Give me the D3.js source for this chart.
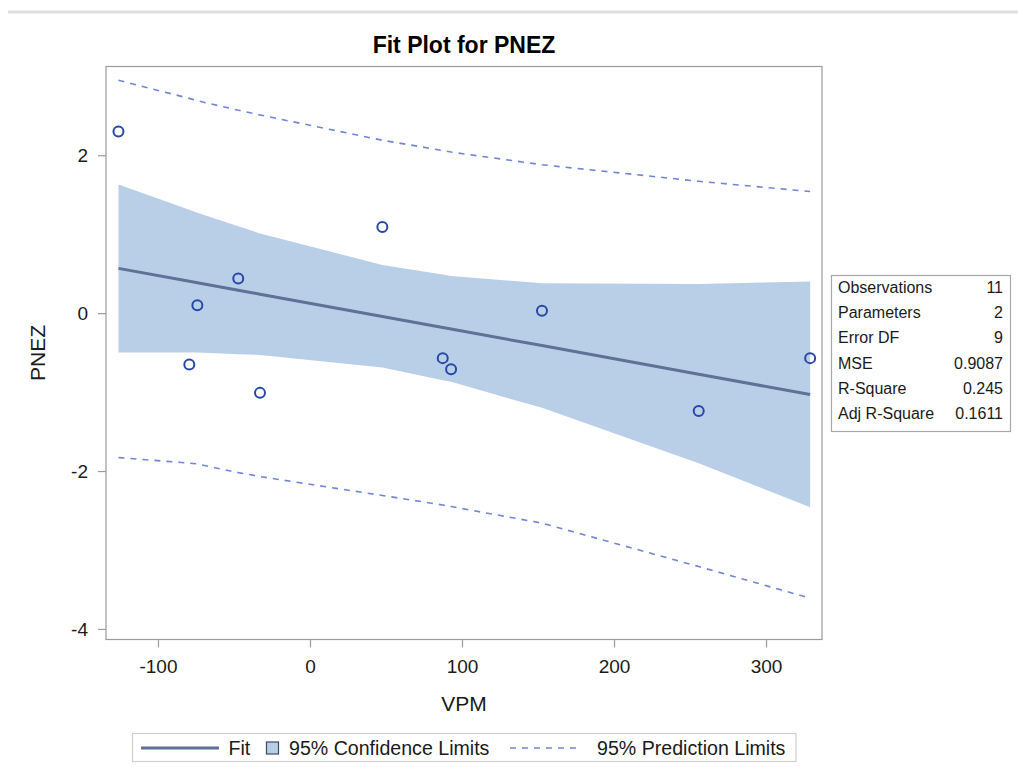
<!DOCTYPE html>
<html>
<head>
<meta charset="utf-8">
<script src="https://cdn.jsdelivr.net/npm/d3@7"></script>
<style>
  body { margin: 0; background: #fff; }
  svg { display: block; font-family: "Liberation Sans", Arial, sans-serif; }
</style>
</head>
<body>
<div id="chart"></div>
<script>
// Data (sorted by VPM)
const vpm = [-126, -79.4, -74.1, -47.2, -32.9, 47.6, 87.3, 92.8, 152.6, 255.7, 329];
const pnez = [2.3, -0.65, 0.1, 0.44, -1.01, 1.09, -0.57, -0.71, 0.03, -1.24, -0.57];
const fitValues = [0.567, 0.403, 0.385, 0.29, 0.24, -0.043, -0.182, -0.202, -0.411, -0.774, -1.031];
const clUpper = [1.63, 1.31, 1.27, 1.1, 1.01, 0.61, 0.49, 0.47, 0.38, 0.37, 0.4];
const clLower = [-0.5, -0.5, -0.5, -0.52, -0.53, -0.69, -0.85, -0.87, -1.2, -1.9, -2.46];
const plUpper = [2.95, 2.72, 2.69, 2.57, 2.51, 2.19, 2.06, 2.04, 1.88, 1.67, 1.54];
const plLower = [-1.83, -1.9, -1.91, -2.02, -2.07, -2.31, -2.43, -2.45, -2.66, -3.21, -3.61];

const xTicks = [-100, 0, 100, 200, 300];
const yTicks = [-4, -2, 0, 2];

const statLabels = ["Observations", "Parameters", "Error DF", "MSE", "R-Square", "Adj R-Square"];
const statValues = ["11", "2", "9", "0.9087", "0.245", "0.1611"];

const legendLabels = ["Fit", "95% Confidence Limits", "95% Prediction Limits"];

const WIDTH = 1018;
const HEIGHT = 767;
const plot = { left: 106, right: 822, top: 66.5, bottom: 639.5 };

const colors = {
  band: "#b9cfe7",
  fit: "#5f7196",
  marker: "#2547a8",
  pred: "#7186d4",
  frame: "#9c9c9c",
  text: "#1a1a1a",
};

const xScale = d3.scaleLinear([-134.2, 336.8], [plot.left, plot.right]);
const yScale = d3.scaleLinear([-4.134, 3.124], [plot.bottom, plot.top]);

const rows = vpm.map((x, i) => ({
  x: x,
  y: pnez[i],
  fit: fitValues[i],
  clu: clUpper[i],
  cll: clLower[i],
  plu: plUpper[i],
  pll: plLower[i],
}));

const svg = d3
  .select("#chart")
  .append("svg")
  .attr("width", WIDTH)
  .attr("height", HEIGHT);

// Thin separator at the top of the page
svg.append("line")
  .attr("x1", 8)
  .attr("x2", WIDTH)
  .attr("y1", 12)
  .attr("y2", 12)
  .attr("stroke", "#dfdfdf")
  .attr("stroke-width", 3);

// Title
svg.append("text")
  .attr("x", (plot.left + plot.right) / 2)
  .attr("y", 52.5)
  .attr("text-anchor", "middle")
  .style("font-size", "23px")
  .style("font-weight", "bold")
  .style("fill", "#000")
  .text("Fit Plot for PNEZ");

// Confidence band
svg.append("path")
  .datum(rows)
  .attr("fill", colors.band)
  .attr(
    "d",
    d3
      .area()
      .x((d) => xScale(d.x))
      .y0((d) => yScale(d.cll))
      .y1((d) => yScale(d.clu))
  );

// Prediction limits
const lineGen = (key) =>
  d3
    .line()
    .x((d) => xScale(d.x))
    .y((d) => yScale(d[key]));

["plu", "pll"].forEach((key) => {
  svg.append("path")
    .datum(rows)
    .attr("fill", "none")
    .attr("stroke", colors.pred)
    .attr("stroke-width", 1.6)
    .attr("stroke-dasharray", "6,6")
    .attr("d", lineGen(key));
});

// Fit line
svg.append("path")
  .datum(rows)
  .attr("fill", "none")
  .attr("stroke", colors.fit)
  .attr("stroke-width", 3)
  .attr("d", lineGen("fit"));

// Observations
svg.selectAll("circle.obs")
  .data(rows)
  .enter()
  .append("circle")
  .attr("class", "obs")
  .attr("cx", (d) => xScale(d.x))
  .attr("cy", (d) => yScale(d.y))
  .attr("r", 5)
  .attr("fill", "none")
  .attr("stroke", colors.marker)
  .attr("stroke-width", 2);

// Frame
svg.append("rect")
  .attr("x", plot.left)
  .attr("y", plot.top)
  .attr("width", plot.right - plot.left)
  .attr("height", plot.bottom - plot.top)
  .attr("fill", "none")
  .attr("stroke", colors.frame)
  .attr("stroke-width", 1.2);

// Axes (plain hyphen for negatives, like the original)
const plainFormat = (d) => String(d);

const xAxis = svg.append("g")
  .attr("transform", `translate(0,${plot.bottom})`)
  .call(
    d3.axisBottom(xScale)
      .tickValues(xTicks)
      .tickFormat(plainFormat)
      .tickSize(8)
      .tickPadding(12)
      .tickSizeOuter(0)
  );

const yAxis = svg.append("g")
  .attr("transform", `translate(${plot.left},0)`)
  .call(
    d3.axisLeft(yScale)
      .tickValues(yTicks)
      .tickFormat(plainFormat)
      .tickSize(8)
      .tickPadding(10)
      .tickSizeOuter(0)
  );

[xAxis, yAxis].forEach((ax) => {
  ax.select(".domain").remove();
  ax.selectAll(".tick line").attr("stroke", colors.frame).attr("stroke-width", 1.2);
  ax.selectAll(".tick text")
    .style("font-size", "19px")
    .style("font-family", "'Liberation Sans', Arial, sans-serif")
    .style("fill", colors.text);
});

// Axis labels
svg.append("text")
  .attr("x", (plot.left + plot.right) / 2)
  .attr("y", 711)
  .attr("text-anchor", "middle")
  .style("font-size", "21px")
  .style("fill", colors.text)
  .text("VPM");

svg.append("text")
  .attr("text-anchor", "middle")
  .attr("transform", `translate(45,${(plot.top + plot.bottom) / 2}) rotate(-90)`)
  .style("font-size", "21px")
  .style("fill", colors.text)
  .text("PNEZ");

// Fit statistics table
const statBox = { x: 831.5, y: 275.5, w: 179, h: 156 };
const statG = svg.append("g");

statG.append("rect")
  .attr("x", statBox.x)
  .attr("y", statBox.y)
  .attr("width", statBox.w)
  .attr("height", statBox.h)
  .attr("fill", "#fff")
  .attr("stroke", "#a8a8a8")
  .attr("stroke-width", 1.2);

statLabels.forEach((label, i) => {
  const baseY = 293 + i * 25.2;
  statG.append("text")
    .attr("x", 838)
    .attr("y", baseY)
    .style("font-size", "16px")
    .style("fill", colors.text)
    .text(label);
  statG.append("text")
    .attr("x", 1003)
    .attr("y", baseY)
    .attr("text-anchor", "end")
    .style("font-size", "16px")
    .style("fill", colors.text)
    .text(statValues[i]);
});

// Legend
const legendG = svg.append("g");
const legendY = 748;

legendG.append("rect")
  .attr("x", 132.5)
  .attr("y", 733.5)
  .attr("width", 663.5)
  .attr("height", 28)
  .attr("fill", "#fff")
  .attr("stroke", "#cfcfcf")
  .attr("stroke-width", 1.2);

legendG.append("line")
  .attr("x1", 141)
  .attr("x2", 219)
  .attr("y1", legendY)
  .attr("y2", legendY)
  .attr("stroke", colors.fit)
  .attr("stroke-width", 3);

legendG.append("rect")
  .attr("x", 266.5)
  .attr("y", legendY - 6)
  .attr("width", 12)
  .attr("height", 12)
  .attr("fill", colors.band)
  .attr("stroke", "#3d4a63")
  .attr("stroke-width", 1.2);

legendG.append("line")
  .attr("x1", 510)
  .attr("x2", 580)
  .attr("y1", legendY)
  .attr("y2", legendY)
  .attr("stroke", colors.pred)
  .attr("stroke-width", 1.4)
  .attr("stroke-dasharray", "6,6");

const legendTextX = [228.5, 289, 597];
legendLabels.forEach((label, i) => {
  legendG.append("text")
    .attr("x", legendTextX[i])
    .attr("y", legendY + 7)
    .style("font-size", "19.6px")
    .style("fill", colors.text)
    .text(label);
});
</script>
</body>
</html>
